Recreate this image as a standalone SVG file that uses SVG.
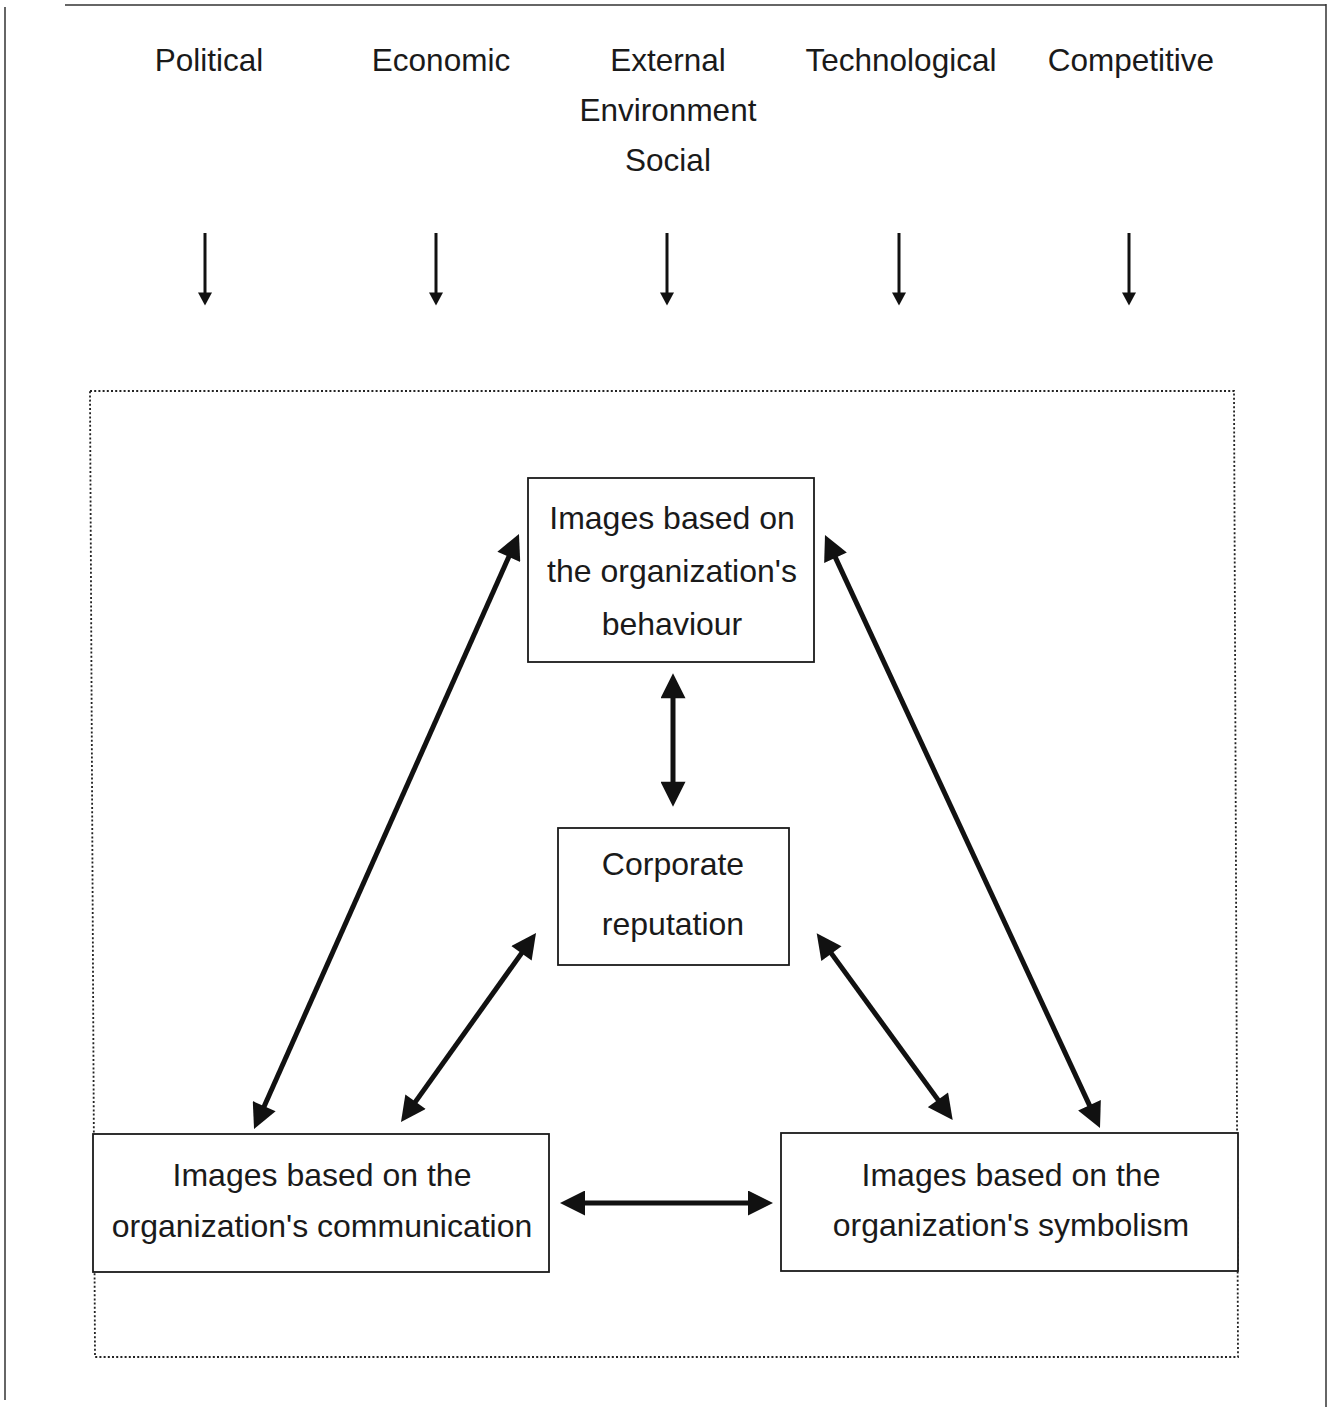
<svg xmlns="http://www.w3.org/2000/svg" width="1333" height="1407" viewBox="0 0 1333 1407">
  <style>
    text { font-family: "Liberation Sans", Arial, sans-serif; font-size: 31.5px; fill: #1a1a1a; text-anchor: middle; }
    .bt { font-size: 32px; }
    .box { fill: #fff; stroke: #1a1a1a; stroke-width: 1.8; }
    .frame { fill: none; stroke: #333; stroke-width: 1.5; }
    .dotted { fill: none; stroke: #222; stroke-width: 1.8; stroke-dasharray: 2 2.2; }
    .thin { stroke: #111; stroke-width: 3; fill: none; marker-end: url(#small); }
    .thick { stroke: #111; stroke-width: 5; fill: none; marker-start: url(#big); marker-end: url(#big); }
  </style>
  <defs>
    <marker id="small" markerUnits="userSpaceOnUse" markerWidth="14" markerHeight="14" refX="7" refY="6.5" orient="auto" viewBox="0 0 12 13">
      <path d="M0,0 L12,6.5 L0,13 Z" fill="#111"/>
    </marker>
    <marker id="big" markerUnits="userSpaceOnUse" markerWidth="26" markerHeight="25" refX="15" refY="12.5" orient="auto-start-reverse" viewBox="0 0 25 25">
      <path d="M0,0 L25,12.5 L0,25 Z" fill="#111"/>
    </marker>
  </defs>
  <rect width="1333" height="1407" fill="#fff"/>

  <g id="frame">
    <line class="frame" x1="65" y1="5" x2="1326" y2="5"/>
    <line class="frame" x1="5" y1="7" x2="5" y2="1400"/>
    <line class="frame" x1="1326" y1="4" x2="1326" y2="1407"/>
    <polygon class="dotted" points="90,391 1234,391 1238,1357 95,1357"/>
  </g>

  <g id="labels">
    <text x="209" y="71">Political</text>
    <text x="441" y="71">Economic</text>
    <text x="668" y="71">External</text>
    <text x="668" y="121">Environment</text>
    <text x="668" y="171">Social</text>
    <text x="901" y="71">Technological</text>
    <text x="1131" y="71">Competitive</text>
  </g>

  <g id="node-behaviour">
    <rect class="box" x="528" y="478" width="286" height="184"/>
    <text class="bt" x="672" y="529">Images based on</text>
    <text class="bt" x="672" y="582">the organization's</text>
    <text class="bt" x="672" y="635">behaviour</text>
  </g>

  <g id="node-reputation">
    <rect class="box" x="558" y="828" width="231" height="137"/>
    <text class="bt" x="673" y="875">Corporate</text>
    <text class="bt" x="673" y="935">reputation</text>
  </g>

  <g id="node-communication">
    <rect class="box" x="93" y="1134" width="456" height="138"/>
    <text class="bt" x="322" y="1186">Images based on the</text>
    <text class="bt" x="322" y="1237">organization's communication</text>
  </g>

  <g id="node-symbolism">
    <rect class="box" x="781" y="1133" width="457" height="138"/>
    <text class="bt" x="1011" y="1186">Images based on the</text>
    <text class="bt" x="1011" y="1236">organization's symbolism</text>
  </g>

  <g id="connectors">
    <line class="thin" x1="205" y1="233" x2="205" y2="300"/>
    <line class="thin" x1="436" y1="233" x2="436" y2="300"/>
    <line class="thin" x1="667" y1="233" x2="667" y2="300"/>
    <line class="thin" x1="899" y1="233" x2="899" y2="300"/>
    <line class="thin" x1="1129" y1="233" x2="1129" y2="300"/>

    <line class="thick" x1="514.9" y1="543.1" x2="258.1" y2="1119.9"/>
    <line class="thick" x1="829.2" y1="544.1" x2="1095.8" y2="1118.9"/>
    <line class="thick" x1="673" y1="683.3" x2="673" y2="796.7"/>
    <line class="thick" x1="530.2" y1="941.1" x2="406.8" y2="1113.9"/>
    <line class="thick" x1="822.6" y1="941.4" x2="946.8" y2="1111.9"/>
    <line class="thick" x1="570" y1="1203" x2="763" y2="1203"/>
  </g>
</svg>
